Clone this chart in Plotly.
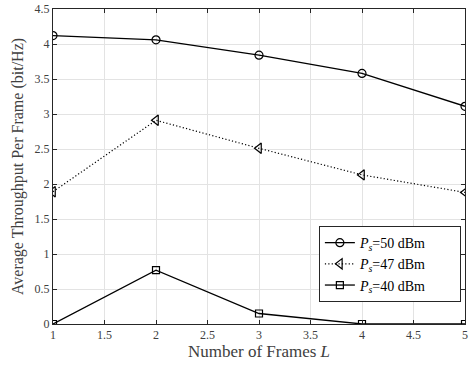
import plotly.graph_objects as go

frames = [1, 2, 3, 4, 5]
ps50 = [4.12, 4.06, 3.84, 3.58, 3.11]
ps47 = [1.89, 2.91, 2.51, 2.13, 1.88]
ps40 = [0.0, 0.77, 0.15, 0.0, 0.0]
pad = "&nbsp;" * 8
names = ["<i>P</i><sub><i>s</i></sub>=50 dBm" + pad,
         "<i>P</i><sub><i>s</i></sub>=47 dBm" + pad,
         "<i>P</i><sub><i>s</i></sub>=40 dBm" + pad]

fig = go.Figure()
fig.add_trace(go.Scatter(x=frames, y=ps50, name=names[0], mode="lines+markers",
                         line=dict(color="black", width=1.3),
                         marker=dict(symbol="circle-open", size=8, color="black", line=dict(width=1.2, color="black"))))
fig.add_trace(go.Scatter(x=frames, y=ps47, name=names[1], mode="lines+markers",
                         line=dict(color="black", width=1.2, dash="1.2px,2.2px"),
                         marker=dict(symbol="triangle-left-open", size=9, color="black", line=dict(width=1.2, color="black"))))
fig.add_trace(go.Scatter(x=frames, y=ps40, name=names[2], mode="lines+markers",
                         line=dict(color="black", width=1.3),
                         marker=dict(symbol="square-open", size=7, color="black", line=dict(width=1.2, color="black"))))

axis_common = dict(showgrid=True, gridcolor="#e3e3e3", gridwidth=1, zeroline=False,
                   showline=True, linecolor="#262626", linewidth=1, mirror="ticks",
                   ticks="inside", ticklen=4, tickcolor="#262626", automargin=False,
                   tickfont=dict(family="Liberation Serif", size=12, color="#404040"))

fig.update_xaxes(range=[1, 5], dtick=0.5, title=dict(text="Number of Frames <i>L</i>", standoff=2,
                 font=dict(family="Liberation Serif", size=17, color="#404040")), **axis_common)
fig.update_yaxes(range=[0, 4.5], dtick=0.5, title=dict(text="Average Throughput Per Frame (bit/Hz)", standoff=6,
                 font=dict(family="Liberation Serif", size=16, color="#404040")), **axis_common)

fig.update_layout(width=471, height=373, margin=dict(l=53, r=6, t=9, b=49),
                  plot_bgcolor="white", paper_bgcolor="white",
                  font=dict(family="Liberation Serif"),
                  legend=dict(x=0.99, y=0.311, xanchor="right", yanchor="top",
                              bgcolor="white", bordercolor="#262626", borderwidth=1,
                              font=dict(family="Liberation Serif", size=14, color="black"),
                              tracegroupgap=0),
                  showlegend=True)

fig.write_html("out.html", config={"displayModeBar": False},
               post_script="document.body.style.margin='0';")
